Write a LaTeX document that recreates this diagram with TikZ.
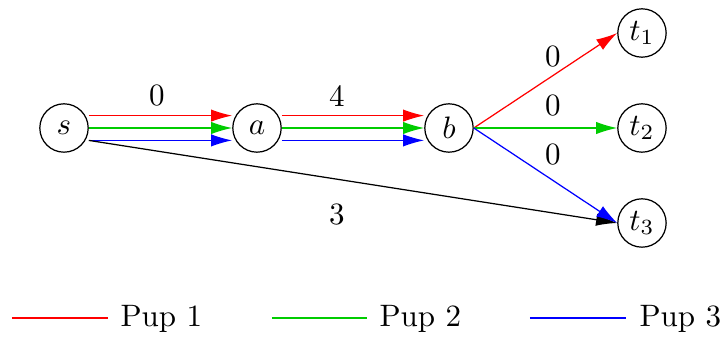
\documentclass[tikz,border=0pt]{standalone}
\usetikzlibrary{arrows.meta}
\definecolor{pgreen}{RGB}{0,204,0}
\tikzset{
  vert/.style={draw, circle, inner sep=1pt, minimum size=15.6pt},
  arr/.style={-{Latex[length=6.8pt,width=4pt]}, line width=0.4pt},
  lbl/.style={inner sep=0pt},
  legtxt/.style={anchor=west, inner sep=0pt}
}
\begin{document}
\begin{tikzpicture}[x=0.3226pt,y=-0.3226pt]
\useasboundingbox (0,0) rectangle (720,337);
\node[vert] (s) at (64,128) {$s$};
\node[vert] (a) at (257,128) {$a$};
\node[vert] (b) at (449,128) {$b$};
\node[vert] (t1) at (642,33) {$t_1$};
\node[vert] (t2) at (642,128) {$t_2$};
\node[vert] (t3) at (642,223) {$t_3$};

\draw[arr, red] ([yshift=4pt]s.east) -- ([yshift=4pt]a.west);
\draw[arr, pgreen] (s.east) -- (a.west);
\draw[arr, blue] ([yshift=-4pt]s.east) -- ([yshift=-4pt]a.west);
\draw[arr, red] ([yshift=4pt]a.east) -- ([yshift=4pt]b.west);
\draw[arr, pgreen] (a.east) -- (b.west);
\draw[arr, blue] ([yshift=-4pt]a.east) -- ([yshift=-4pt]b.west);
\draw[arr, black] ([yshift=-4pt]s.east) -- (t3.west);
\draw[arr, red] (b.east) -- (t1.west);
\draw[arr, pgreen] (b.east) -- (t2.west);
\draw[arr, blue] (b.east) -- (t3.west);

\node[lbl] (l1) at (157,96) {0};
\node[lbl] (l2) at (337,96) {4};
\node[lbl] (l3) at (337,215) {3};
\node[lbl] (l4) at (553,57) {0};
\node[lbl] (l5) at (553,106) {0};
\node[lbl] (l6) at (553,155) {0};

\coordinate (r1) at (12,318); \coordinate (r2) at (108,318);
\coordinate (g1) at (272,318); \coordinate (g2) at (367,318);
\coordinate (b1) at (530,318); \coordinate (b2) at (626,318);
\draw[red, line width=0.4pt] (r1) -- (r2);
\draw[pgreen, line width=0.4pt] (g1) -- (g2);
\draw[blue, line width=0.4pt] (b1) -- (b2);
\node[legtxt] (p1) at (120,319) {Pup 1};
\node[legtxt] (p2) at (379,319) {Pup 2};
\node[legtxt] (p3) at (639,319) {Pup 3};
\end{tikzpicture}
\end{document}
